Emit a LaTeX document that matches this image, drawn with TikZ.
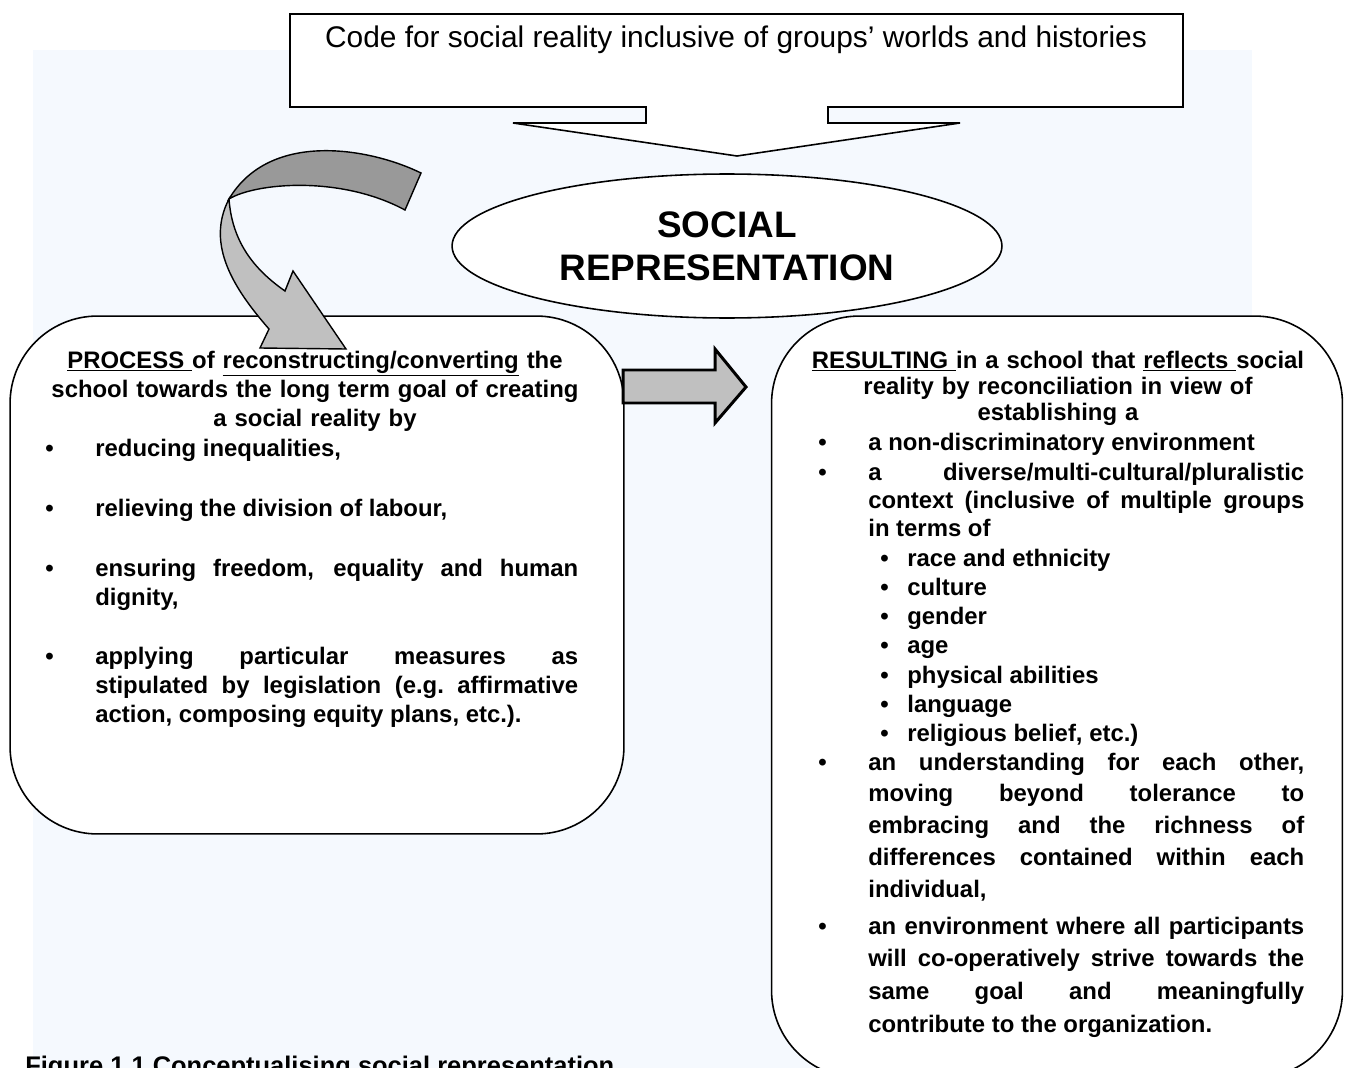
\documentclass[tikz,border=0pt]{standalone}
\usepackage{fontspec}
\setmainfont{Liberation Sans}
\usetikzlibrary{positioning,shapes.geometric}

\definecolor{paleblue}{RGB}{245,249,254}
\definecolor{lightgrey}{RGB}{192,192,192}
\definecolor{midgrey}{RGB}{153,153,153}

\tikzset{
  panel/.style={draw=black, line width=0.9pt, fill=white, rounded corners=1.75cm, inner sep=0pt},
  bodytext/.style={inner sep=0pt, font=\fontsize{13.6}{16.7}\selectfont\bfseries},
  dot/.style={bodytext, anchor=base west},
  point/.style={bodytext, anchor=base west, align=justify},
  heading/.style={bodytext, anchor=base, align=center, text width=11cm},
}

\begin{document}
\begin{tikzpicture}[x=0.02cm, y=-0.02cm]
  \useasboundingbox (0,0) rectangle (1349,1068);
  \fill[paleblue] (33,50) rectangle (1252,1068);

  % call-out holding the code
  \draw[fill=white, line width=0.9pt] (290,14) -- (1183,14) -- (1183,107) -- (828,107) -- (828,123)
    -- (960,123) -- (737,156) -- (513,123) -- (646,123) -- (646,107) -- (290,107) -- cycle;
  \node[font=\fontsize{17}{20}\selectfont, anchor=base, inner sep=0pt] (code) at (736,48)
    {Code for social reality inclusive of groups’ worlds and histories};

  \node[ellipse, draw, fill=white, line width=0.9pt, minimum width=11cm, minimum height=2.88cm,
    align=center, font=\fontsize{21}{24.5}\selectfont\bfseries] (socrep) at (727,246)
    {SOCIAL\\REPRESENTATION};

  % the two boxes
  \node[panel, minimum width=12.28cm, minimum height=10.36cm] (process) at (317,575) {};
  \node[panel, minimum width=11.42cm, minimum height=15.24cm] (result) at (1057,697) {};

  % left box
  \node[heading] (proctitle) at (315,368) {\underline{PROCESS\ }of \underline{reconstructing/converting} the\\
    school towards the long term goal of creating\\ a social reality by};
  \node[dot] (pb1) at (45,456) {\textbullet};
  \node[point, text width=9.66cm] (p1) at (95,456) {reducing inequalities,};
  \node[dot] (pb2) at (45,516) {\textbullet};
  \node[point, text width=9.66cm] (p2) at (95,516) {relieving the division of labour,};
  \node[dot] (pb3) at (45,576) {\textbullet};
  \node[point, text width=9.66cm] (p3) at (95,576) {ensuring freedom, equality and human\linebreak dignity,};
  \node[dot] (pb4) at (45,664) {\textbullet};
  \node[point, text width=9.66cm] (p4) at (95,664) {applying particular measures as\linebreak
    stipulated by legislation (e.g.\ affirmative\linebreak action, composing equity plans, etc.).};

  % right box
  \node[heading, font=\fontsize{13.6}{14.8}\selectfont\bfseries] (restitle) at (1058,368)
    {\underline{RESULTING\ }in a school that \underline{reflects\ }social\\ reality by reconciliation in view of\\ establishing a};
  \node[dot] (rb1) at (818,450) {\textbullet};
  \node[point, text width=8.72cm] (r1) at (868,450) {a non-discriminatory environment};
  \node[dot] (rb2) at (818,480) {\textbullet};
  \node[point, text width=8.72cm, font=\fontsize{13.6}{16.2}\selectfont\bfseries] (r2) at (868,480)
    {a diverse/multi-cultural/pluralistic\linebreak context (inclusive of multiple groups\linebreak in terms of};
  \foreach \grp [count=\i] in {race and ethnicity, culture, gender, age, physical abilities, language, {religious belief, etc.)}}
    \node[dot] (sb\i) at (880, {537+29.2*\i}) {\textbullet} node[dot] (s\i) at (907, {537+29.2*\i}) {\grp};
  \node[dot] (rb3) at (818,770) {\textbullet};
  \node[point, text width=8.72cm, font=\fontsize{13.6}{18.2}\selectfont\bfseries] (r3) at (868,770)
    {an understanding for each other,\linebreak moving beyond tolerance to\linebreak embracing and the richness of\linebreak
     differences contained within each\linebreak individual,};
  \node[dot] (rb4) at (818,934) {\textbullet};
  \node[point, text width=8.72cm, font=\fontsize{13.6}{18.6}\selectfont\bfseries] (r4) at (868,934)
    {an environment where all participants\linebreak will co-operatively strive towards the\linebreak
     same goal and meaningfully\linebreak contribute to the organization.};

  \node[bodytext, font=\fontsize{14.5}{17}\selectfont\bfseries, anchor=base west] (caption) at (25,1074)
    {Figure 1.1 Conceptualising social representation};

  % curved arrow, twisted band on top
  \filldraw[fill=midgrey, line width=0.8pt] (421,173) .. controls (370,148) and (270,130) .. (229,199)
    .. controls (255,183) and (340,175) .. (405,210) -- cycle;
  \filldraw[fill=lightgrey, line width=0.8pt] (229,199) .. controls (232,240) and (252,268) .. (285,291)
    -- (293,271) -- (346,349) -- (260,348) -- (269,329) .. controls (235,290) and (205,245) .. (229,199) -- cycle;

  % block arrow from process to result
  \filldraw[fill=lightgrey, line width=1.7pt] (623,370) -- (715,370) -- (715,349) -- (746,387)
    -- (715,423) -- (715,403) -- (623,403) -- cycle;
\end{tikzpicture}
\end{document}
